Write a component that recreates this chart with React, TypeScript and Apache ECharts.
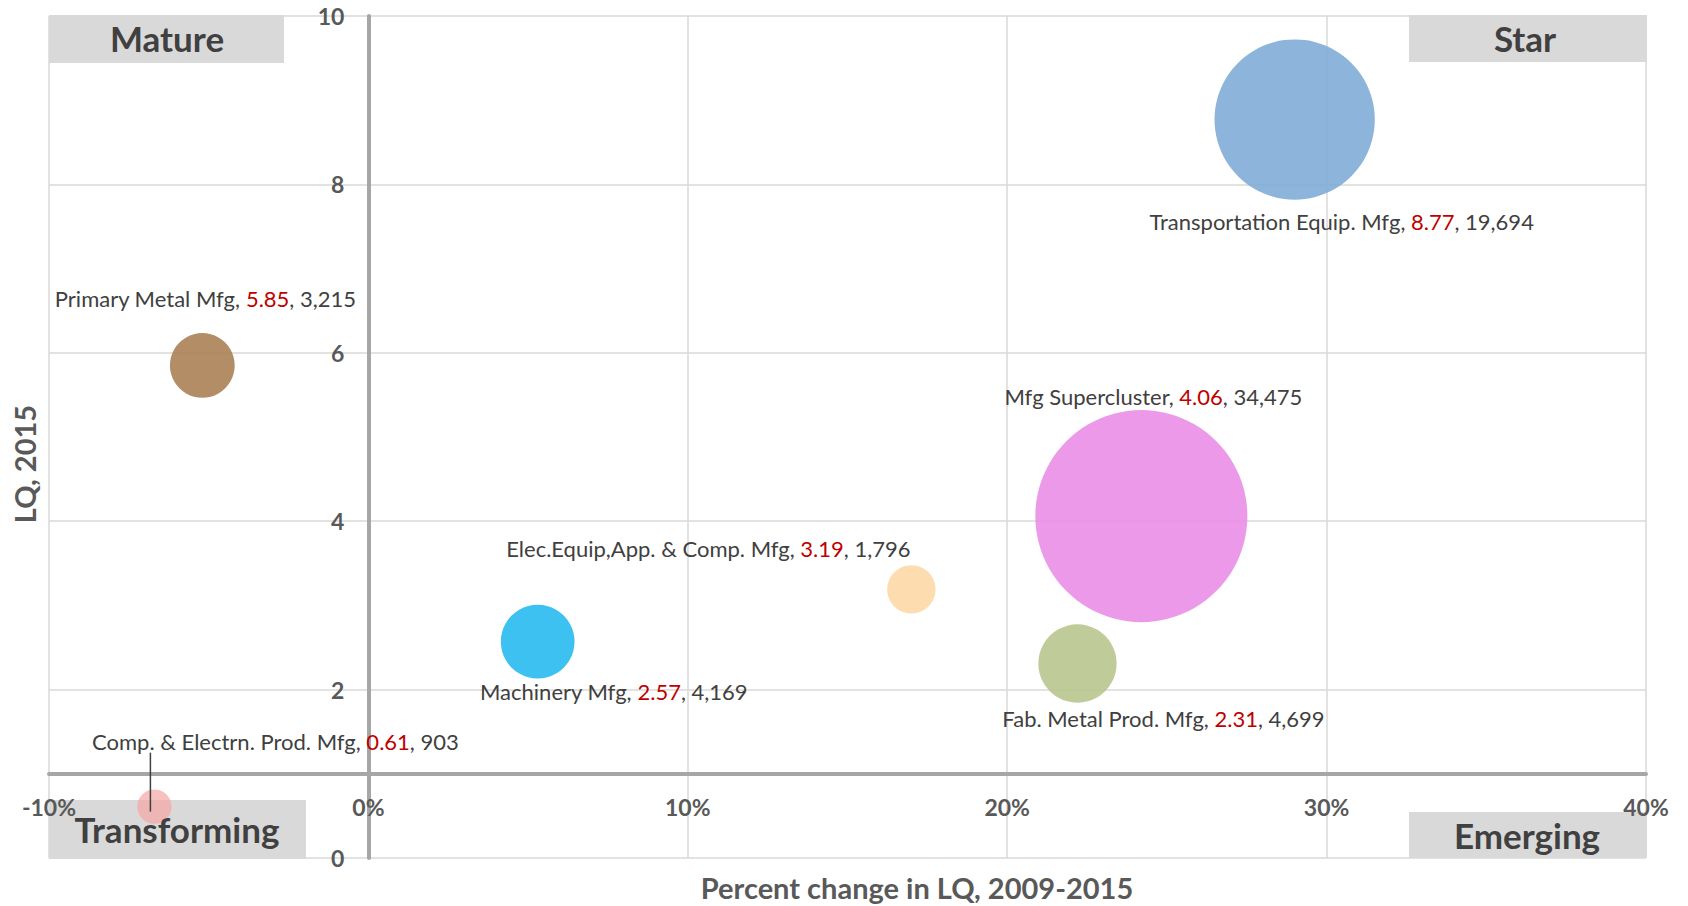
import React, { useEffect, useRef } from "react";
import * as echarts from "echarts";

const names = [
  "Transportation Equip. Mfg",
  "Mfg Supercluster",
  "Fab. Metal Prod. Mfg",
  "Elec.Equip,App. & Comp. Mfg",
  "Machinery Mfg",
  "Primary Metal Mfg",
  "Comp. & Electrn. Prod. Mfg",
];
const pctChange = [29.0, 24.2, 22.2, 17.0, 5.3, -5.2, -6.7];
const lq = [8.77, 4.06, 2.31, 3.19, 2.57, 5.85, 0.61];
const employment = [19694, 34475, 4699, 1796, 4169, 3215, 903];
const xTicks = [-10, 0, 10, 20, 30, 40];
const yTicks = [0, 2, 4, 6, 8, 10];
const quadrants = ["Mature", "Star", "Transforming", "Emerging"];

const colors = [
  "rgba(129,172,214,0.9)",
  "rgba(233,142,229,0.9)",
  "rgba(184,197,141,0.9)",
  "rgba(253,217,167,0.9)",
  "rgba(39,186,239,0.9)",
  "rgba(171,129,85,0.9)",
  "rgba(246,165,165,0.7)",
];
const labelOffsets = [
  [47, 102],
  [12, -120],
  [86, 55],
  [-203, -41],
  [76, 50],
  [3, -67],
  [121, -65],
];

const FONT = "Lato, 'Open Sans', sans-serif";
const GL = 49, GT = 16, GW = 1597, GH = 842;

export default function App() {
  const ref = useRef<HTMLDivElement>(null);
  useEffect(() => {
    if (!ref.current) return;
    const chart = echarts.init(ref.current, null, { renderer: "svg" });
    const xMin = xTicks[0], xMax = xTicks[xTicks.length - 1];
    const yMin = yTicks[0], yMax = yTicks[yTicks.length - 1];
    const pxPerX = GW / (xMax - xMin);
    const pxPerY = GH / (yMax - yMin);

    const data = names.map((n, i) => ({
      name: n,
      value: [pctChange[i], lq[i], employment[i]],
      itemStyle: { color: colors[i], opacity: 1 },
      label: {
        show: true,
        position: "inside",
        formatter: `{n|${n}, }{v|${lq[i].toFixed(2)}}{n|, ${employment[i].toLocaleString("en-US")}}`,
        rich: {
          n: { color: "#404040", fontSize: 22, fontFamily: FONT },
          v: { color: "#C00000", fontSize: 22, fontFamily: FONT },
        },
      },
    }));

    const boxStyle = { fill: "#D9D9D9" };
    const qText = (text: string, x: number, y: number) => ({
      type: "text",
      x,
      y,
      z: 10,
      style: {
        text,
        fill: "#404040",
        font: `bold 35px ${FONT}`,
        textAlign: "center",
        textVerticalAlign: "middle",
      },
    });

    chart.setOption({
      animation: false,
      backgroundColor: "#ffffff",
      grid: { left: GL, top: GT, width: GW, height: GH, containLabel: false },
      xAxis: {
        type: "value",
        min: xMin,
        max: xMax,
        interval: 10,
        position: "bottom",
        offset: -(1 - yMin) * pxPerY,
        axisLine: { show: true, onZero: false, lineStyle: { color: "#A6A6A6", width: 4 } },
        axisTick: { show: false },
        axisLabel: {
          formatter: "{value}%",
          color: "#595959",
          fontSize: 23,
          fontWeight: "bold",
          fontFamily: FONT,
          margin: 22,
        },
        splitLine: { show: true, lineStyle: { color: "#D9D9D9", width: 1.5 } },
      },
      yAxis: {
        type: "value",
        min: yMin,
        max: yMax,
        interval: 2,
        position: "left",
        offset: -(0 - xMin) * pxPerX,
        axisLine: { show: true, onZero: false, lineStyle: { color: "#A6A6A6", width: 4 } },
        axisTick: { show: false },
        axisLabel: {
          color: "#595959",
          fontSize: 23,
          fontWeight: "bold",
          fontFamily: FONT,
          margin: 24,
        },
        splitLine: { show: true, lineStyle: { color: "#D9D9D9", width: 1.5 } },
      },
      series: [
        {
          type: "scatter",
          z: 3,
          symbol: "circle",
          symbolSize: (v: number[]) => 1.142 * Math.sqrt(v[2]),
          data,
          labelLayout: (params: any) => ({
            dx: labelOffsets[params.dataIndex][0],
            dy: labelOffsets[params.dataIndex][1],
            hideOverlap: false,
          }),
        },
        {
          type: "custom",
          z: 6,
          silent: true,
          data: [[pctChange[6], lq[6]]],
          renderItem: (params: any, api: any) => {
            const p = api.coord([api.value(0), api.value(1)]);
            return {
              type: "line",
              shape: { x1: p[0] - 4, y1: p[1] + 5, x2: p[0] - 4, y2: p[1] - 54 },
              style: { stroke: "#404040", lineWidth: 1.5 },
            };
          },
        },
      ],
      graphic: [
        { type: "rect", z: -1, shape: { x: 49, y: 15, width: 235, height: 48 }, style: boxStyle },
        { type: "rect", z: -1, shape: { x: 1409, y: 15, width: 238, height: 47 }, style: boxStyle },
        { type: "rect", z: -1, shape: { x: 49, y: 800, width: 257, height: 59 }, style: boxStyle },
        { type: "rect", z: -1, shape: { x: 1409, y: 812, width: 238, height: 46 }, style: boxStyle },
        qText(quadrants[0], 167, 38),
        qText(quadrants[1], 1525, 38),
        qText(quadrants[2], 177, 829),
        qText(quadrants[3], 1527, 835),
        {
          type: "text",
          x: 917,
          y: 887,
          z: 10,
          style: {
            text: "Percent change in LQ, 2009-2015",
            fill: "#595959",
            font: `bold 29px ${FONT}`,
            textAlign: "center",
            textVerticalAlign: "middle",
          },
        },
        {
          type: "text",
          x: 24,
          y: 464,
          rotation: Math.PI / 2,
          z: 10,
          style: {
            text: "LQ, 2015",
            fill: "#595959",
            font: `bold 29px ${FONT}`,
            textAlign: "center",
            textVerticalAlign: "middle",
          },
        },
      ],
    });
    return () => chart.dispose();
  }, []);
  return (
    <div
      ref={ref}
      style={{ position: "fixed", left: 0, top: 0, width: 1688, height: 906 }}
    />
  );
}
